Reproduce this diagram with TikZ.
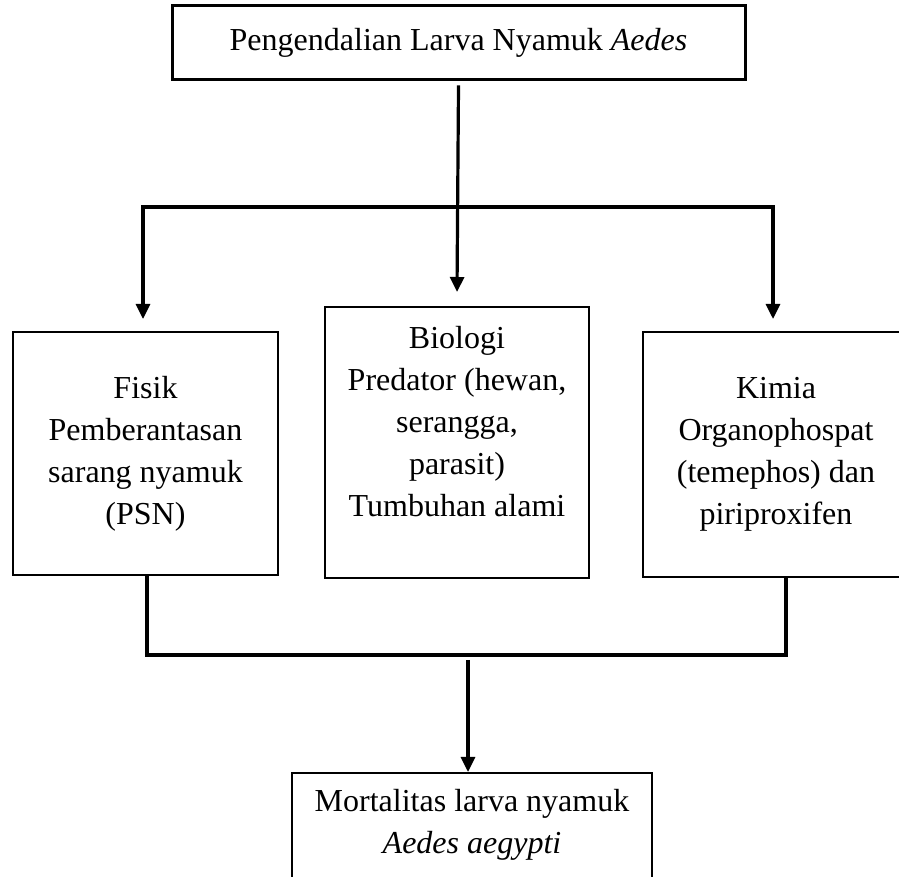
\documentclass[tikz,border=0pt]{standalone}
\usepackage{fontspec}
\setmainfont{Liberation Serif}
\usetikzlibrary{arrows.meta}

\begin{document}
\begin{tikzpicture}[x=1pt, y=1pt,
    kotak/.style={draw, line width=2pt, inner sep=0pt},
    isi/.style={align=center, inner sep=0pt, font=\fontsize{32pt}{42pt}\selectfont},
    garis/.style={line width=3.2pt},
    panah/.style={line width=3.2pt, -{Triangle[length=15pt, width=14pt]}}]
    \useasboundingbox (0,0) rectangle (899,877);
    \clip (0,0) rectangle (899,877);

    \node[kotak, isi, line width=3pt, minimum width=573pt, minimum height=74pt] (atas) at (458.5,834) {Pengendalian Larva Nyamuk \textit{Aedes}};

    \node[kotak, isi, minimum width=265pt, minimum height=243pt] (fisik) at (145.5,423.5) {Fisik\\Pemberantasan\\sarang nyamuk\\(PSN)};
    \node[kotak, minimum width=264pt, minimum height=271pt] (biologi) at (457,434.5) {};
    \node[isi] (biologiisi) at (457,455.5) {Biologi\\Predator (hewan,\\serangga,\\parasit)\\Tumbuhan alami};
    \node[kotak, isi, minimum width=266pt, minimum height=245pt] (kimia) at (776,422.5) {Kimia\\Organophospat\\(temephos) dan\\piriproxifen};

    \node[kotak, minimum width=360pt, minimum height=112pt] (hasil) at (472,48) {};
    \node[isi] (hasilisi) at (472,52) {Mortalitas larva nyamuk\\\textit{Aedes aegypti}};

    \coordinate (cabang) at (458,670);
    \coordinate (gabung) at (468,222);

    \draw[panah] ([yshift=-4pt]atas.south) -- ([yshift=14pt]biologi.north);
    \draw[line width=3.2pt, {Triangle[length=15pt, width=14pt]}-{Triangle[length=15pt, width=14pt]}] ([xshift=-2.5pt, yshift=12pt]fisik.north) |- (cabang) -| ([xshift=-3pt, yshift=12pt]kimia.north);

    \draw[garis] ([xshift=1.5pt]fisik.south) |- (gabung) -| ([xshift=10pt]kimia.south);
    \draw[panah] ([yshift=-5pt]gabung) -- (hasil.north -| gabung);
\end{tikzpicture}
\end{document}
